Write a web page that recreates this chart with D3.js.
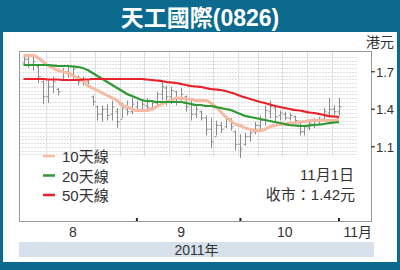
<!DOCTYPE html>
<html>
<head>
<meta charset="utf-8">
<script src="https://cdn.jsdelivr.net/npm/d3@7"></script>
<style>
  body { margin: 0; background: #0b6a8e; }
  text { font-family: "Liberation Sans", Arial, "Noto Sans CJK TC", sans-serif; }
</style>
</head>
<body>
<svg id="chart" width="400" height="270"></svg>
<script>
var width = 400, height = 270;

// trading days, Aug 1 to Nov 1 2011
var augDays = [1,2,3,4,5,8,9,10,11,12,15,16,17,18,19,22,23,24,25,26,29,30,31];
var sepDays = [1,2,5,6,7,8,9,12,14,15,16,19,20,21,22,23,26,27,28,29,30];
var octDays = [3,4,6,7,10,11,12,13,14,17,18,19,20,21,24,25,26,27,28,31];
var novDays = [1];

var highs = [1.82,1.83,1.82,1.75,1.63,1.63,1.66,1.57,1.73,1.75,1.75,1.67,1.66,1.63,1.51,1.43,1.43,1.44,1.47,1.41,
             1.45,1.47,1.49,1.47,1.47,1.49,1.47,1.54,1.63,1.59,1.58,1.55,1.57,1.51,1.47,1.44,1.39,1.35,1.33,1.31,
             1.30,1.35,1.33,1.23,1.20,1.21,1.23,1.30,1.35,1.43,1.47,1.43,1.39,1.38,1.37,1.35,1.29,1.27,1.31,1.33,
             1.34,1.41,1.49,1.43,1.49];
var lows  = [1.75,1.73,1.71,1.61,1.44,1.45,1.53,1.51,1.63,1.65,1.63,1.59,1.59,1.57,1.43,1.31,1.30,1.31,1.31,1.25,
             1.33,1.35,1.36,1.38,1.39,1.39,1.39,1.43,1.47,1.43,1.44,1.43,1.47,1.38,1.31,1.33,1.31,1.19,1.09,1.19,
             1.21,1.25,1.23,1.07,1.01,1.11,1.14,1.20,1.23,1.27,1.33,1.30,1.31,1.31,1.31,1.29,1.19,1.19,1.23,1.25,
             1.27,1.31,1.33,1.35,1.35];
var opens = [1.77,1.80,1.76,1.74,1.62,1.50,1.58,1.56,1.64,1.70,1.68,1.66,1.62,1.62,1.50,1.42,1.36,1.40,1.36,1.38,
             1.32,1.40,1.38,1.42,1.40,1.43,1.41,1.45,1.52,1.57,1.50,1.54,1.48,1.50,1.44,1.36,1.38,1.33,1.24,1.18,
             1.27,1.26,1.30,1.22,1.12,1.12,1.18,1.22,1.27,1.31,1.38,1.41,1.35,1.36,1.33,1.34,1.29,1.22,1.25,1.28,
             1.30,1.32,1.37,1.40,1.38];
var closes = [1.80,1.76,1.78,1.66,1.50,1.58,1.62,1.54,1.70,1.68,1.72,1.62,1.64,1.59,1.46,1.36,1.40,1.35,1.42,1.30,
              1.41,1.38,1.44,1.40,1.44,1.41,1.45,1.52,1.58,1.50,1.55,1.48,1.52,1.42,1.36,1.40,1.33,1.24,1.14,1.27,
              1.24,1.32,1.26,1.12,1.08,1.18,1.21,1.27,1.31,1.39,1.42,1.34,1.37,1.33,1.35,1.31,1.22,1.26,1.29,1.30,
              1.32,1.38,1.40,1.38,1.42];

var ma10 = [1.83,1.83,1.83,1.81,1.78,1.75,1.73,1.71,1.70,1.69,1.67,1.65,1.63,1.59,1.57,1.55,1.53,1.51,1.49,1.47,
            1.43,1.42,1.40,1.39,1.39,1.39,1.40,1.42,1.44,1.46,1.47,1.49,1.49,1.48,1.48,1.47,1.47,1.47,1.45,1.42,
            1.38,1.34,1.31,1.28,1.27,1.25,1.24,1.23,1.23,1.24,1.26,1.27,1.28,1.28,1.29,1.29,1.30,1.30,1.31,1.31,
            1.31,1.31,1.31,1.31,1.32];
var ma20 = [1.754,1.754,1.754,1.754,1.754,1.754,1.75,1.746,1.746,1.746,1.742,1.738,1.73,1.714,1.69,1.666,1.642,1.618,1.594,1.57,
            1.546,1.522,1.506,1.49,1.474,1.466,1.466,1.458,1.458,1.458,1.458,1.458,1.458,1.45,1.442,1.434,1.434,1.426,1.426,1.418,
            1.41,1.402,1.394,1.378,1.362,1.346,1.338,1.33,1.322,1.314,1.306,1.298,1.29,1.282,1.274,1.27,1.266,1.266,1.27,1.274,
            1.278,1.282,1.29,1.294,1.298];
var ma50 = [1.642,1.642,1.642,1.642,1.642,1.638,1.638,1.638,1.634,1.634,1.634,1.634,1.638,1.638,1.642,1.642,1.642,1.642,1.642,1.642,
            1.642,1.642,1.642,1.642,1.642,1.638,1.634,1.63,1.626,1.618,1.614,1.61,1.602,1.594,1.586,1.582,1.578,1.57,1.562,1.558,
            1.554,1.546,1.534,1.522,1.506,1.494,1.482,1.47,1.458,1.45,1.438,1.426,1.418,1.41,1.402,1.394,1.39,1.382,1.374,1.37,
            1.362,1.354,1.346,1.342,1.338];

var yTicks = [1.1, 1.4, 1.7];
var monthLabels = ["8", "9", "10", "11月"];
var labelDay = 15;   // month label sits at mid-month
var legendNames = ["10天線", "20天線", "50天線"];
var colors = ["#f6b9a1", "#2f9a33", "#e8222b"];

var dates = [];
[[7, augDays], [8, sepDays], [9, octDays], [10, novDays]].forEach(function (m) {
    m[1].forEach(function (d) { dates.push(new Date(2011, m[0], d)); });
});

var svg = d3.select("#chart");
var plot = { left: 19, right: 371, top: 51, bottom: 221 };

// title band and white panel
svg.append("rect").attr("x", 0).attr("y", 0).attr("width", width).attr("height", height).attr("fill", "#0b6a8e");
svg.append("rect").attr("x", 3).attr("y", 32).attr("width", 394).attr("height", 230).attr("fill", "#ffffff");
svg.append("text")
    .attr("x", width / 2).attr("y", 26)
    .attr("text-anchor", "middle")
    .style("font-size", "23px").style("font-weight", "bold")
    .attr("fill", "#ffffff")
    .text("天工國際(0826)");

var x = d3.scaleLinear().domain([0, dates.length - 1]).range([23.5, 339]);
var y = d3.scaleLinear().domain([0.506, 1.866]).range([plot.bottom, plot.top]);

// grid
var gridVals = d3.range(1.04, 1.83, 0.03);
svg.append("g").selectAll("line").data(gridVals).enter().append("line")
    .attr("x1", plot.left).attr("x2", 357)
    .attr("y1", function (d) { return Math.round(y(d)) + 0.5; })
    .attr("y2", function (d) { return Math.round(y(d)) + 0.5; })
    .style("stroke", "#e0e0e0").style("stroke-dasharray", "2,1");

var weekBreaks = [];
dates.forEach(function (d, i) {
    if (i > 0 && d.getDay() < dates[i - 1].getDay()) weekBreaks.push(i - 0.5);
});
svg.append("g").selectAll("line").data(weekBreaks).enter().append("line")
    .attr("x1", function (d) { return Math.round(x(d)) + 0.5; })
    .attr("x2", function (d) { return Math.round(x(d)) + 0.5; })
    .attr("y1", plot.top).attr("y2", y(1.02))
    .style("stroke", "#dedede");

// frame
svg.append("rect")
    .attr("x", plot.left + 0.5).attr("y", plot.top + 0.5)
    .attr("width", plot.right - plot.left).attr("height", plot.bottom - plot.top)
    .attr("fill", "none").style("stroke", "#9a9a9a");

// price bars
var bars = svg.append("g").style("stroke", "#8c8c8c").style("stroke-width", 1);
dates.forEach(function (d, i) {
    var cx = Math.round(x(i)) + 0.5;
    bars.append("line").attr("x1", cx).attr("x2", cx).attr("y1", y(highs[i])).attr("y2", y(lows[i]));
    bars.append("line").attr("x1", cx - 2).attr("x2", cx).attr("y1", y(opens[i])).attr("y2", y(opens[i]));
    bars.append("line").attr("x1", cx).attr("x2", cx + 2).attr("y1", y(closes[i])).attr("y2", y(closes[i]));
});

// moving averages
var line = d3.line().x(function (d, i) { return x(i); }).y(function (d) { return y(d); }).curve(d3.curveMonotoneX);
[ma10, ma20, ma50].forEach(function (s, k) {
    svg.append("path")
        .attr("d", line(s))
        .attr("fill", "none")
        .style("stroke", colors[k])
        .style("stroke-width", k == 0 ? 3 : 2.2);
});

// right axis
svg.append("g").selectAll("line").data(yTicks).enter().append("line")
    .attr("x1", plot.right).attr("x2", plot.right + 4)
    .attr("y1", function (d) { return y(d); }).attr("y2", function (d) { return y(d); })
    .style("stroke", "#333").style("stroke-width", 1.2);
svg.append("g").selectAll("text").data(yTicks).enter().append("text")
    .attr("x", plot.right + 5)
    .attr("y", function (d) { return y(d) + 5; })
    .style("font-size", "13px").attr("fill", "#333")
    .text(function (d) { return d.toFixed(1); });
svg.append("text")
    .attr("x", 394).attr("y", 47)
    .attr("text-anchor", "end")
    .style("font-size", "14px").attr("fill", "#333")
    .text("港元");

// month ticks and labels
var monthStarts = [], monthMids = [];
dates.forEach(function (d, i) {
    if (i > 0 && d.getMonth() != dates[i - 1].getMonth()) monthStarts.push(i);
});
[7, 8, 9].forEach(function (m) {
    var idx = dates.findIndex(function (d) { return d.getMonth() == m && d.getDate() >= labelDay; });
    monthMids.push(idx);
});
svg.append("g").selectAll("line").data(monthStarts).enter().append("line")
    .attr("x1", function (d) { return x(d); }).attr("x2", function (d) { return x(d); })
    .attr("y1", plot.bottom - 3).attr("y2", plot.bottom)
    .style("stroke", "#222").style("stroke-width", 2);
monthMids.forEach(function (idx, k) {
    svg.append("text")
        .attr("x", x(idx)).attr("y", 237)
        .attr("text-anchor", "middle")
        .style("font-size", "14px").attr("fill", "#333")
        .text(monthLabels[k]);
});
svg.append("text")
    .attr("x", plot.right + 1).attr("y", 237)
    .attr("text-anchor", "end")
    .style("font-size", "14px").attr("fill", "#333")
    .text(monthLabels[3]);

// year band
svg.append("rect")
    .attr("x", plot.left).attr("y", 242)
    .attr("width", 355).attr("height", 15)
    .attr("fill", "#d7e1eb");
svg.append("text")
    .attr("x", (plot.left + 374) / 2).attr("y", 255)
    .attr("text-anchor", "middle")
    .style("font-size", "14px").attr("fill", "#333")
    .text("2011年");

// legend
legendNames.forEach(function (name, k) {
    var ly = 156 + k * 19.5;
    svg.append("line")
        .attr("x1", 43).attr("x2", 55)
        .attr("y1", ly).attr("y2", ly)
        .style("stroke", colors[k]).style("stroke-width", 2.5);
    svg.append("text")
        .attr("x", 62).attr("y", ly + 6)
        .style("font-size", "15px").attr("fill", "#333")
        .text(name);
});

// last close note
svg.append("text")
    .attr("x", 354).attr("y", 180)
    .attr("text-anchor", "end")
    .style("font-size", "15px").attr("fill", "#333")
    .text("11月1日");
svg.append("text")
    .attr("x", 355).attr("y", 200)
    .attr("text-anchor", "end")
    .style("font-size", "15px").attr("fill", "#333")
    .text("收市：" + closes[closes.length - 1].toFixed(2) + "元");
</script>
</body>
</html>
